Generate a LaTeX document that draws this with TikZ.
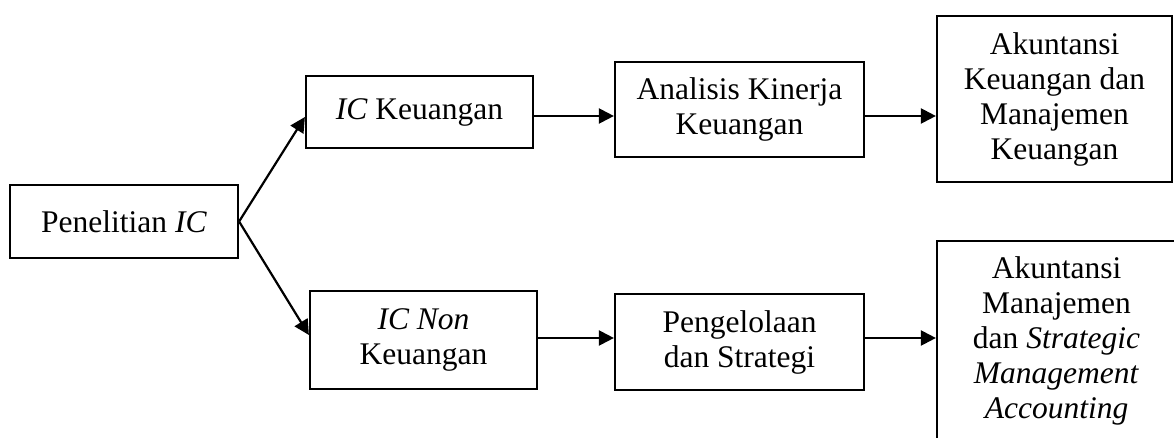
\documentclass[tikz,border=0pt]{standalone}
\usepackage{fontspec}
\setmainfont{Liberation Serif}
\usetikzlibrary{arrows.meta}
\tikzset{
  boxnode/.style={draw, line width=2.2pt, inner sep=0pt, align=center,
    font=\fontsize{31.5}{35}\selectfont},
  arr/.style={line width=2.2pt, -{Triangle[length=15pt,width=15pt]}}
}
\begin{document}
\begin{tikzpicture}[x=1pt,y=-1pt]
\useasboundingbox (0,0) rectangle (1174,438);
\clip (0,0) rectangle (1174,438);
\node[boxnode, minimum width=228pt, minimum height=73pt] (A) at (124,221.5) {Penelitian \textit{IC}};
\node[boxnode, minimum width=227pt, minimum height=72pt] (B) at (419.5,112) {\textit{IC} Keuangan};
\node[boxnode, minimum width=227pt, minimum height=98pt] (C) at (423.5,340) {\textit{IC Non}\\Keuangan};
\node[boxnode, minimum width=249pt, minimum height=95pt] (D) at (739.5,109.5) {Analisis Kinerja\\Keuangan};
\node[boxnode, minimum width=249pt, minimum height=96pt] (F) at (739.5,342) {Pengelolaan\\dan Strategi};
\node[boxnode, minimum width=235pt, minimum height=166pt] (E) at (1054.5,99) {Akuntansi\\Keuangan dan\\Manajemen\\Keuangan};
\node[boxnode, minimum width=239pt, minimum height=199pt] (G) at (1056.5,340.5) {Akuntansi\\Manajemen\\dan \textit{Strategic}\\\textit{Management}\\\textit{Accounting}};
\draw[arr] (A.east) -- ([yshift=-5pt]B.west);
\draw[arr] (A.east) -- ([yshift=5pt]C.west);
\draw[arr] (B.east |- 0,116) -- (D.west |- 0,116);
\draw[arr] (D.east |- 0,116) -- (E.west |- 0,116);
\draw[arr] (C.east |- 0,338) -- (F.west |- 0,338);
\draw[arr] (F.east |- 0,338) -- (G.west |- 0,338);
\end{tikzpicture}
\end{document}
